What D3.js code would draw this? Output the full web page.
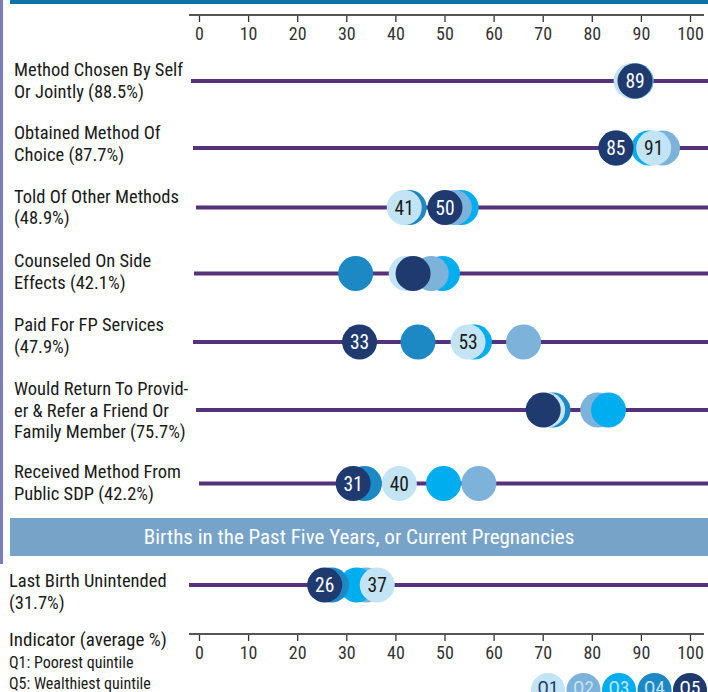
<!DOCTYPE html>
<html><head><meta charset="utf-8">
<script src="https://cdn.jsdelivr.net/npm/d3@7"></script>
<style>
html,body{margin:0;padding:0;background:#fff;}
svg{display:block;}
text{font-family:"Liberation Sans Narrow","Roboto Condensed","DejaVu Sans Condensed",sans-serif;font-stretch:condensed;}
</style></head>
<body>
<script>
// ---------- DATA ----------
const categories = [
  ["Method Chosen By Self", "Or Jointly (88.5%)"],
  ["Obtained Method Of", "Choice (87.7%)"],
  ["Told Of Other Methods", "(48.9%)"],
  ["Counseled On Side", "Effects (42.1%)"],
  ["Paid For FP Services", "(47.9%)"],
  ["Would Return To Provid-", "er & Refer a Friend Or", "Family Member (75.7%)"],
  ["Received Method From", "Public SDP (42.2%)"],
  ["Last Birth Unintended", "(31.7%)"]
];
const quintiles = ["Q1", "Q2", "Q3", "Q4", "Q5"];
const q1Values = [88.0, 92.6, 41.8, 42.2, 54.8, 71.0, 40.8, 36.3];
const q2Values = [89.0, 94.4, 52.0, 47.3, 66.1, 81.2, 57.0, 34.0];
const q3Values = [89.0, 91.6, 53.4, 49.6, 56.1, 83.4, 49.8, 32.1];
const q4Values = [88.3, 85.0, 42.8, 31.9, 44.6, 72.1, 33.7, 27.0];
const q5Values = [88.8, 84.9, 50.1, 43.6, 32.7, 70.1, 31.4, 25.6];
const q1Labels = ["", "91", "41", "", "53", "", "40", "37"];
const q5Labels = ["89", "85", "50", "", "33", "", "31", "26"];
const tickValues = [0, 10, 20, 30, 40, 50, 60, 70, 80, 90, 100];
const sectionTitle = "Births in the Past Five Years, or Current Pregnancies";
const legendNotes = ["Indicator (average %)", "Q1: Poorest quintile", "Q5: Wealthiest quintile"];

// ---------- LAYOUT / STYLE ----------
const W = 708, H = 692;
const colors = {Q1: "#c3e4f4", Q2: "#7db2da", Q3: "#00aeef", Q4: "#1c89c5", Q5: "#1f3a6e"};
const labelColors = {Q1: "#1a1a1a", Q5: "#ffffff"};
const rowY = [81, 148, 207.5, 273.5, 342, 410, 483.5, 585];
const textY = [70, 133, 196.5, 261, 325, 389, 472, 581];
const textX = [14, 14, 14, 14, 14, 14, 14, 9];
const lineStartX = [191, 193, 196, 194, 193, 196, 199, 189];
const R = 17.5;
// z-order (bottom -> top) for each row
const defaultOrder = ["Q3", "Q2", "Q4", "Q1", "Q5"];
const altOrder = ["Q2", "Q3", "Q4", "Q1", "Q5"];
const rowOrders = rowY.map((_, i) => (i === 5 || i === 7) ? altOrder : defaultOrder);

const svg = d3.select("body").append("svg").attr("width", W).attr("height", H);

const x = d3.scaleLinear().domain([0, 100]).range([199, 690]);

// decorative bars
svg.append("rect").attr("x", 0).attr("y", 0).attr("width", 3).attr("height", 564).attr("fill", "#7b7cc0");
svg.append("rect").attr("x", 10).attr("y", 0).attr("width", W - 10).attr("height", 4).attr("fill", "#0b72a6");

// axes
function drawAxis(yPos) {
  const g = svg.append("g").attr("transform", `translate(0,${yPos})`);
  const ax = d3.axisBottom(x).tickValues(tickValues).tickSize(7).tickPadding(5).tickFormat(d3.format("d"));
  g.call(ax);
  g.select(".domain").remove();
  g.append("line").attr("x1", 189).attr("x2", 704).attr("y1", 0).attr("y2", 0)
    .attr("stroke", "#555").attr("stroke-width", 2);
  g.selectAll(".tick line").attr("stroke", "#333").attr("stroke-width", 1.3);
  g.selectAll(".tick text").attr("fill", "#333").style("font-size", "18px")
    .style("font-family", '"Liberation Sans Narrow","Roboto Condensed","DejaVu Sans Condensed",sans-serif');
}
drawAxis(15);
drawAxis(634);

// section header
svg.append("rect").attr("x", 10).attr("y", 518).attr("width", W - 10).attr("height", 38).attr("fill", "#77a3c8");
svg.append("text").attr("x", 359).attr("y", 544).attr("text-anchor", "middle")
  .attr("fill", "#fff").style("font-size", "21px").text(sectionTitle);

const valuesBy = {Q1: q1Values, Q2: q2Values, Q3: q3Values, Q4: q4Values, Q5: q5Values};
const labelsBy = {Q1: q1Labels, Q5: q5Labels};

categories.forEach((cat, i) => {
  const y = rowY[i];
  const g = svg.append("g");
  const lh = 21.5;
  cat.forEach((line, k) => {
    g.append("text").attr("x", textX[i]).attr("y", textY[i] + k * lh).attr("dy", "0.35em")
      .attr("fill", "#1a1a1a").style("font-size", "18.5px").text(line);
  });
  g.append("line").attr("x1", lineStartX[i]).attr("x2", W).attr("y1", y).attr("y2", y)
    .attr("stroke", "#55337a").attr("stroke-width", 4);
  const data = rowOrders[i].map(q => ({q, v: valuesBy[q][i], label: labelsBy[q] ? labelsBy[q][i] : ""}));
  const dots = g.selectAll("g.dot").data(data).join("g").attr("class", "dot")
    .attr("transform", d => `translate(${x(d.v)},${y})`);
  dots.append("circle").attr("r", R).attr("fill", d => colors[d.q]);
  dots.filter(d => d.label).append("text").attr("text-anchor", "middle").attr("dy", "0.36em")
    .attr("fill", d => labelColors[d.q]).style("font-size", "19.5px").text(d => d.label);
});

// bottom-left notes
legendNotes.forEach((t, k) => {
  svg.append("text").attr("x", 9).attr("y", [639, 662, 683][k]).attr("dy", "0.35em")
    .attr("fill", "#1a1a1a").style("font-size", k === 0 ? "19px" : "16px").text(t);
});

// legend circles
const lx = d3.scalePoint().domain(quintiles).range([548, 690]);
const legTextColors = {Q1: "#1f3a6e", Q2: "#c3e4f4", Q3: "#c3e4f4", Q4: "#c3e4f4", Q5: "#ffffff"};
const lg = svg.selectAll("g.leg").data(quintiles).join("g").attr("class", "leg")
  .attr("transform", d => `translate(${lx(d)},${690})`);
lg.append("circle").attr("r", 17).attr("fill", d => colors[d]);
lg.append("text").attr("text-anchor", "middle").attr("dy", "0.2em").attr("fill", d => legTextColors[d])
  .style("font-size", "19px").text(d => d);
</script>
</body></html>
